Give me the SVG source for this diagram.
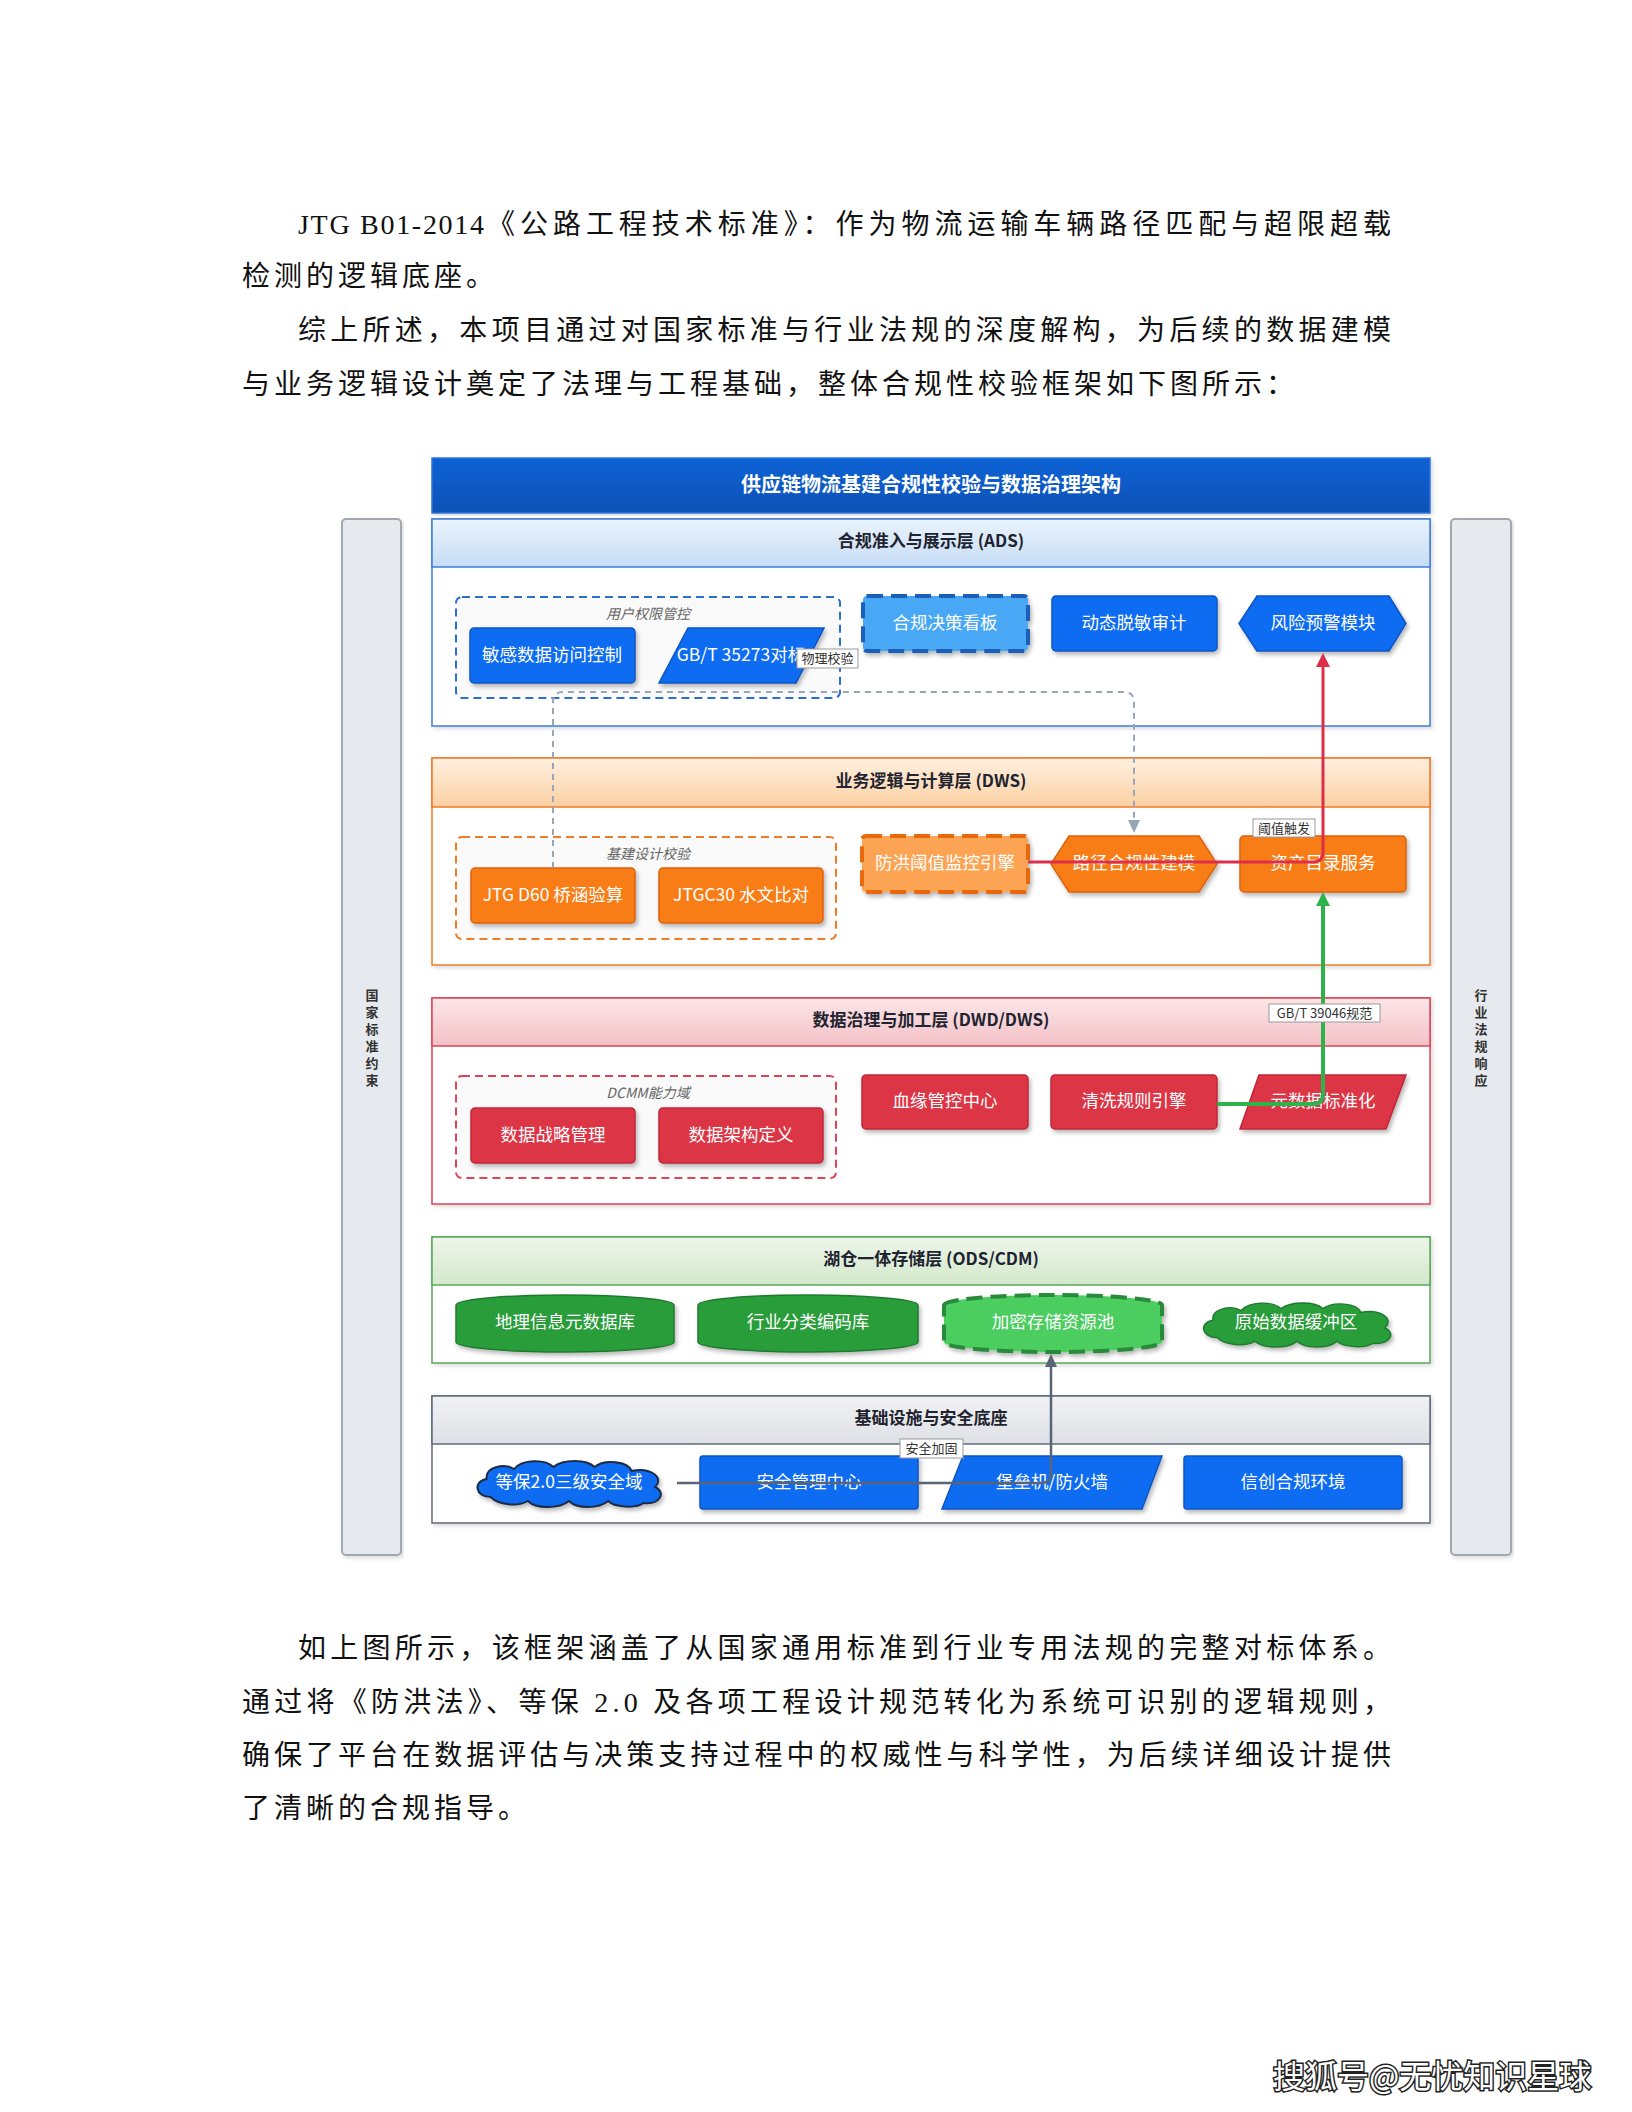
<svg xmlns="http://www.w3.org/2000/svg" width="1632" height="2112" viewBox="0 0 1632 2112">
<defs>
<style>
.para{font-family:"Liberation Serif","Noto Sans CJK SC",serif;font-size:28px;fill:#111;}
.nt{font-family:"Noto Sans CJK SC","Noto Sans",sans-serif;font-size:17.5px;fill:#fff;text-anchor:middle;dominant-baseline:central;}
.ht{font-family:"Noto Sans CJK SC","Noto Sans",sans-serif;font-size:17px;font-weight:700;fill:#1f2430;text-anchor:middle;dominant-baseline:central;}
.gl{font-family:"Noto Sans CJK SC","Noto Sans",sans-serif;font-size:14px;font-style:italic;fill:#666;text-anchor:middle;dominant-baseline:central;}
.el{font-family:"Noto Sans CJK SC","Noto Sans",sans-serif;font-size:13px;fill:#333;text-anchor:middle;dominant-baseline:central;}
.elb{fill:#fff;stroke:#9a9a9a;stroke-width:1;}
.vt{font-family:"Noto Sans CJK SC","Noto Sans",sans-serif;font-size:13px;font-weight:700;fill:#333;text-anchor:middle;}
.side{fill:#e6e9ed;stroke:#a2a8b0;stroke-width:2;}
.blue{fill:#0a6cf2;stroke:#0b55c2;stroke-width:1.5;}
.lblue{fill:#4aa8f5;stroke:#1a5fb8;stroke-width:4;stroke-dasharray:16 8;}
.orange{fill:#f97d14;stroke:#dd620c;stroke-width:1.5;}
.lorange{fill:#fca452;stroke:#e8680c;stroke-width:4;stroke-dasharray:16 8;}
.red{fill:#dc3545;stroke:#bf2638;stroke-width:1.5;}
.green{fill:#2a9d3b;stroke:#1f7a2e;stroke-width:1.5;}
.lgreen{fill:#4ccd5f;stroke:#2a8a3a;stroke-width:4;stroke-dasharray:16 8;}
.grp{fill:#fafafa;stroke-width:2;stroke-dasharray:8 5;}
</style>
<linearGradient id="gTitle" x1="0" y1="0" x2="0" y2="1"><stop offset="0" stop-color="#0b62d6"/><stop offset="1" stop-color="#0852b6"/></linearGradient>
<linearGradient id="gAds" x1="0" y1="0" x2="0" y2="1"><stop offset="0" stop-color="#eaf3fd"/><stop offset="1" stop-color="#c6dcf5"/></linearGradient>
<linearGradient id="gDws" x1="0" y1="0" x2="0" y2="1"><stop offset="0" stop-color="#fff0e0"/><stop offset="1" stop-color="#fbd0a2"/></linearGradient>
<linearGradient id="gDwd" x1="0" y1="0" x2="0" y2="1"><stop offset="0" stop-color="#fce6e8"/><stop offset="1" stop-color="#f3c0c6"/></linearGradient>
<linearGradient id="gOds" x1="0" y1="0" x2="0" y2="1"><stop offset="0" stop-color="#eef6ea"/><stop offset="1" stop-color="#d2e8cb"/></linearGradient>
<linearGradient id="gInf" x1="0" y1="0" x2="0" y2="1"><stop offset="0" stop-color="#f1f2f4"/><stop offset="1" stop-color="#dde0e5"/></linearGradient>
<filter id="sh" x="-10%" y="-20%" width="130%" height="160%"><feDropShadow dx="2" dy="3" stdDeviation="2" flood-color="#000" flood-opacity="0.28"/></filter>
<filter id="shl" x="-5%" y="-5%" width="110%" height="110%"><feDropShadow dx="2" dy="2" stdDeviation="2" flood-color="#000" flood-opacity="0.15"/></filter>
<path id="cloud" d="M20,38 C4,38 2,22 16,20 C14,8 34,4 44,10 C52,0 76,0 84,8 C94,0 118,0 126,8 C136,0 160,2 164,12 C182,8 198,18 188,28 C200,34 192,46 176,44 C168,50 146,48 140,42 C130,50 108,50 100,42 C90,50 66,50 58,42 C48,48 28,46 20,38 Z"/>
<marker id="aRed" markerUnits="userSpaceOnUse" markerWidth="16" markerHeight="16" refX="4" refY="8" orient="auto"><path d="M0,1 L14,8 L0,15 z" fill="#dc2f4b"/></marker>
<marker id="aGreen" markerUnits="userSpaceOnUse" markerWidth="16" markerHeight="16" refX="4" refY="8" orient="auto"><path d="M0,1 L14,8 L0,15 z" fill="#2db34a"/></marker>
<marker id="aGray" markerUnits="userSpaceOnUse" markerWidth="16" markerHeight="16" refX="4" refY="7" orient="auto"><path d="M0,1 L13,7 L0,13 z" fill="#9aa5b8"/></marker>
<marker id="aSlate" markerUnits="userSpaceOnUse" markerWidth="16" markerHeight="16" refX="4" refY="7" orient="auto"><path d="M0,1 L13,7 L0,13 z" fill="#5a6478"/></marker>
</defs>
<rect x="0" y="0" width="1632" height="2112" fill="#fff"/>

<g id="text-top">
<text class="para" x="298" y="234" textLength="186" lengthAdjust="spacing">JTG B01-2014</text>
<text class="para" x="487" y="234" textLength="904" lengthAdjust="spacing">《公路工程技术标准》：作为物流运输车辆路径匹配与超限超载</text>
<text class="para" x="242" y="286" letter-spacing="4">检测的逻辑底座。</text>
<text class="para" x="298" y="340" textLength="1093" lengthAdjust="spacing">综上所述，本项目通过对国家标准与行业法规的深度解构，为后续的数据建模</text>
<text class="para" x="242" y="394" letter-spacing="4">与业务逻辑设计奠定了法理与工程基础，整体合规性校验框架如下图所示：</text>
</g>

<g id="side-left"><rect class="side" x="342" y="519" width="59" height="1036" rx="4" filter="url(#shl)"/>
<text class="vt" x="372"><tspan x="372" y="1000">国</tspan><tspan x="372" y="1017">家</tspan><tspan x="372" y="1034">标</tspan><tspan x="372" y="1051">准</tspan><tspan x="372" y="1068">约</tspan><tspan x="372" y="1085">束</tspan></text></g>
<g id="side-right"><rect class="side" x="1451" y="519" width="60" height="1036" rx="4" filter="url(#shl)"/>
<text class="vt" x="1481"><tspan x="1481" y="1000">行</tspan><tspan x="1481" y="1017">业</tspan><tspan x="1481" y="1034">法</tspan><tspan x="1481" y="1051">规</tspan><tspan x="1481" y="1068">响</tspan><tspan x="1481" y="1085">应</tspan></text></g>

<g id="title"><rect x="432" y="458" width="998" height="55" fill="url(#gTitle)" stroke="#2f74dc" stroke-width="1.5" filter="url(#shl)"/>
<text class="ht" x="931" y="483" style="fill:#fff;font-size:20px">供应链物流基建合规性校验与数据治理架构</text></g>

<g id="layer-ads"><rect x="432" y="519" width="998" height="207" fill="#fff" stroke="#3d7fd6" stroke-width="1.5" filter="url(#shl)"/>
<rect x="432" y="519" width="998" height="48" fill="url(#gAds)" stroke="#3d7fd6" stroke-width="1.5"/>
<text class="ht" x="931" y="539">合规准入与展示层 (ADS)</text></g>
<g id="layer-dws"><rect x="432" y="758" width="998" height="207" fill="#fff" stroke="#f07a2a" stroke-width="1.5" filter="url(#shl)"/>
<rect x="432" y="758" width="998" height="49" fill="url(#gDws)" stroke="#f07a2a" stroke-width="1.5"/>
<text class="ht" x="931" y="779">业务逻辑与计算层 (DWS)</text></g>
<g id="layer-dwd"><rect x="432" y="998" width="998" height="206" fill="#fff" stroke="#dc4656" stroke-width="1.5" filter="url(#shl)"/>
<rect x="432" y="998" width="998" height="48" fill="url(#gDwd)" stroke="#dc4656" stroke-width="1.5"/>
<text class="ht" x="931" y="1018">数据治理与加工层 (DWD/DWS)</text></g>
<g id="layer-ods"><rect x="432" y="1237" width="998" height="126" fill="#fff" stroke="#5aa85a" stroke-width="1.5" filter="url(#shl)"/>
<rect x="432" y="1237" width="998" height="48" fill="url(#gOds)" stroke="#5aa85a" stroke-width="1.5"/>
<text class="ht" x="931" y="1257">湖仓一体存储层 (ODS/CDM)</text></g>
<g id="layer-infra"><rect x="432" y="1396" width="998" height="127" fill="#fff" stroke="#5f6b7a" stroke-width="1.5" filter="url(#shl)"/>
<rect x="432" y="1396" width="998" height="48" fill="url(#gInf)" stroke="#5f6b7a" stroke-width="1.5"/>
<text class="ht" x="931" y="1416">基础设施与安全底座</text></g>

<g id="grp-user"><rect class="grp" x="456" y="597" width="384" height="101" rx="6" stroke="#2d6fcc"/><text class="gl" x="648" y="613">用户权限管控</text></g>
<g id="grp-jj"><rect class="grp" x="456" y="837" width="380" height="102" rx="6" stroke="#f07c28"/><text class="gl" x="648" y="853">基建设计校验</text></g>
<g id="grp-dcmm"><rect class="grp" x="456" y="1076" width="380" height="102" rx="6" stroke="#dd4455"/><text class="gl" x="648" y="1092">DCMM能力域</text></g>

<g id="n-acl"><rect class="blue" x="470" y="628" width="165" height="55" rx="4" filter="url(#sh)"/><text class="nt" x="552" y="653">敏感数据访问控制</text></g>
<g id="n-gbt"><polygon class="blue" points="688,628 824,628 796,683 659,683" filter="url(#sh)"/><text class="nt" x="741" y="653">GB/T 35273对标</text></g>
<g id="n-board"><rect class="lblue" x="863" y="596" width="165" height="55" rx="4" filter="url(#sh)"/><text class="nt" x="945" y="621">合规决策看板</text></g>
<g id="n-mask"><rect class="blue" x="1052" y="596" width="165" height="55" rx="4" filter="url(#sh)"/><text class="nt" x="1134" y="621">动态脱敏审计</text></g>
<g id="n-risk"><polygon class="blue" points="1239,623.5 1257,596 1389,596 1406,623.5 1389,651 1257,651" filter="url(#sh)"/><text class="nt" x="1323" y="621">风险预警模块</text></g>

<g id="n-d60"><rect class="orange" x="471" y="868" width="164" height="55" rx="4" filter="url(#sh)"/><text class="nt" x="553" y="893">JTG D60 桥涵验算</text></g>
<g id="n-c30"><rect class="orange" x="659" y="868" width="164" height="55" rx="4" filter="url(#sh)"/><text class="nt" x="741" y="893">JTGC30 水文比对</text></g>
<g id="n-flood"><rect class="lorange" x="862" y="836" width="166" height="56" rx="4" filter="url(#sh)"/><text class="nt" x="945" y="861">防洪阈值监控引擎</text></g>
<g id="n-route"><polygon class="orange" points="1051,864 1069,836 1199,836 1217,864 1199,892 1069,892" filter="url(#sh)"/><text class="nt" x="1134" y="861">路径合规性建模</text></g>
<g id="n-asset"><rect class="orange" x="1240" y="836" width="166" height="56" rx="4" filter="url(#sh)"/><text class="nt" x="1323" y="861">资产目录服务</text></g>

<g id="n-strat"><rect class="red" x="471" y="1108" width="164" height="55" rx="4" filter="url(#sh)"/><text class="nt" x="553" y="1133">数据战略管理</text></g>
<g id="n-arch"><rect class="red" x="659" y="1108" width="164" height="55" rx="4" filter="url(#sh)"/><text class="nt" x="741" y="1133">数据架构定义</text></g>
<g id="n-lineage"><rect class="red" x="862" y="1075" width="166" height="54" rx="4" filter="url(#sh)"/><text class="nt" x="945" y="1099">血缘管控中心</text></g>
<g id="n-clean"><rect class="red" x="1051" y="1075" width="166" height="54" rx="4" filter="url(#sh)"/><text class="nt" x="1134" y="1099">清洗规则引擎</text></g>
<g id="n-meta"><polygon class="red" points="1259,1075 1406,1075 1386,1129 1240,1129" filter="url(#sh)"/><text class="nt" x="1323" y="1099">元数据标准化</text></g>

<g id="n-geo"><path class="green" d="M456,1305 A109,10 0 0 1 674,1305 L674,1342 A109,10 0 0 1 456,1342 Z" filter="url(#sh)"/><text class="nt" x="565" y="1320">地理信息元数据库</text></g>
<g id="n-code"><path class="green" d="M698,1305 A110,10 0 0 1 918,1305 L918,1342 A110,10 0 0 1 698,1342 Z" filter="url(#sh)"/><text class="nt" x="808" y="1320">行业分类编码库</text></g>
<g id="n-enc"><path class="lgreen" d="M944,1305 A109,10 0 0 1 1162,1305 L1162,1342 A109,10 0 0 1 944,1342 Z" filter="url(#sh)"/><text class="nt" x="1053" y="1320">加密存储资源池</text></g>
<g id="n-raw"><use href="#cloud" transform="translate(1197,1301) scale(1,0.96)" class="green" filter="url(#sh)"/><text class="nt" x="1296" y="1320">原始数据缓冲区</text></g>

<g id="n-mlps"><use href="#cloud" transform="translate(471,1459) scale(0.98,1)" fill="#0a6cf2" stroke="#1c2b44" stroke-width="2" filter="url(#sh)"/><text class="nt" x="569" y="1480">等保2.0三级安全域</text></g>
<g id="n-soc"><rect class="blue" x="700" y="1456" width="218" height="53" rx="3" filter="url(#sh)"/><text class="nt" x="809" y="1480">安全管理中心</text></g>
<g id="n-fw"><polygon class="blue" points="963,1456 1162,1456 1142,1509 942,1509" filter="url(#sh)"/><text class="nt" x="1052" y="1480">堡垒机/防火墙</text></g>
<g id="n-xc"><rect class="blue" x="1184" y="1456" width="218" height="53" rx="3" filter="url(#sh)"/><text class="nt" x="1293" y="1480">信创合规环境</text></g>

<g id="connectors" fill="none">
<path d="M553,868 V702 Q553,692 563,692 H1124 Q1134,692 1134,702 V824" stroke="#9aa5b8" stroke-width="2" stroke-dasharray="6 5" marker-end="url(#aGray)"/>
<path d="M1028,862 H1313 Q1323,862 1323,852 V663" stroke="#dc2f4b" stroke-width="3" marker-end="url(#aRed)"/>
<path d="M1217,1104 H1313 Q1323,1104 1323,1094 V902" stroke="#2db34a" stroke-width="4" marker-end="url(#aGreen)"/>
<path d="M677,1483 H1041 Q1051,1483 1051,1473 V1363" stroke="#5a6478" stroke-width="2.5" marker-end="url(#aSlate)"/>
<g id="edge-labels">
<rect class="elb" x="797" y="649" width="61" height="19"/><text class="el" x="827.5" y="657.5">物理校验</text>
<rect class="elb" x="1253" y="819" width="62" height="18"/><text class="el" x="1284" y="827">阈值触发</text>
<rect class="elb" x="1269" y="1004" width="111" height="18"/><text class="el" x="1324.5" y="1012">GB/T 39046规范</text>
<rect class="elb" x="900" y="1439" width="63" height="19"/><text class="el" x="931.5" y="1447.5">安全加固</text>
</g>
</g>

<g id="text-bottom">
<text class="para" x="298" y="1658" textLength="1093" lengthAdjust="spacing">如上图所示，该框架涵盖了从国家通用标准到行业专用法规的完整对标体系。</text>
<text class="para" x="242" y="1712" textLength="1149" lengthAdjust="spacing">通过将《防洪法》、等保 2.0 及各项工程设计规范转化为系统可识别的逻辑规则，</text>
<text class="para" x="242" y="1765" textLength="1149" lengthAdjust="spacing">确保了平台在数据评估与决策支持过程中的权威性与科学性，为后续详细设计提供</text>
<text class="para" x="242" y="1818" letter-spacing="4">了清晰的合规指导。</text>
</g>

<g id="watermark"><text x="1273" y="2088" style="font-family:'Noto Sans CJK SC',sans-serif;font-size:32px;fill:#fff;stroke:#222;stroke-width:3;paint-order:stroke;">搜狐号@无忧知识星球</text></g>
</svg>
